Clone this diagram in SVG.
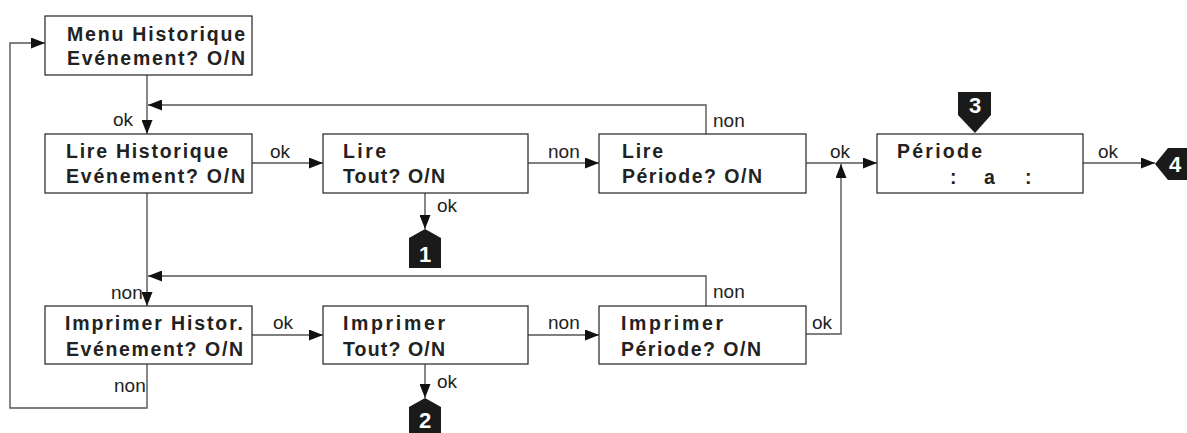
<svg xmlns="http://www.w3.org/2000/svg" width="1187" height="433" viewBox="0 0 1187 433">
<style>
.box{fill:#fff;stroke:#333;stroke-width:1.3}
.bt{font-family:"Liberation Sans",Arial,sans-serif;font-weight:bold;font-size:19.5px;fill:#222}
.lb{font-family:"Liberation Sans",Arial,sans-serif;font-size:19px;fill:#222}
.ln{fill:none;stroke:#555;stroke-width:1.4}
.bd{fill:#1a1a1a}
.bn{font-family:"Liberation Sans",Arial,sans-serif;font-weight:bold;font-size:22px;fill:#fff}
</style>
<defs>
<marker id="ar" markerUnits="userSpaceOnUse" markerWidth="14" markerHeight="11" refX="14" refY="5.5" orient="auto">
<path d="M0,0 L14,5.5 L0,11 z" fill="#111"/>
</marker>
</defs>
<rect width="1187" height="433" fill="#fff"/>
<g id="connectors">
<path class="ln" d="M147,364 V408 H10 V43 H45" marker-end="url(#ar)"/>
<path class="ln" d="M147,75 V134" marker-end="url(#ar)"/>
<path class="ln" d="M706,134 V105 H148" marker-end="url(#ar)"/>
<path class="ln" d="M147,193 V306" marker-end="url(#ar)"/>
<path class="ln" d="M706,306 V276 H148" marker-end="url(#ar)"/>
<path class="ln" d="M252,163 H323" marker-end="url(#ar)"/>
<path class="ln" d="M528,163 H599" marker-end="url(#ar)"/>
<path class="ln" d="M806,163 H877" marker-end="url(#ar)"/>
<path class="ln" d="M806,334 H841 V164" marker-end="url(#ar)"/>
<path class="ln" d="M1083,163 H1155" marker-end="url(#ar)"/>
<path class="ln" d="M425,193 V229" marker-end="url(#ar)"/>
<path class="ln" d="M425,364 V398" marker-end="url(#ar)"/>
<path class="ln" d="M252,335 H323" marker-end="url(#ar)"/>
<path class="ln" d="M528,335 H599" marker-end="url(#ar)"/>
<text class="lb" x="113" y="126">ok</text>
<text class="lb" x="270" y="158">ok</text>
<text class="lb" x="548" y="158">non</text>
<text class="lb" x="713" y="127">non</text>
<text class="lb" x="830" y="158">ok</text>
<text class="lb" x="1098" y="158">ok</text>
<text class="lb" x="437" y="212">ok</text>
<text class="lb" x="111" y="299">non</text>
<text class="lb" x="114" y="392">non</text>
<text class="lb" x="273" y="329">ok</text>
<text class="lb" x="548" y="329">non</text>
<text class="lb" x="713" y="298">non</text>
<text class="lb" x="812" y="329">ok</text>
<text class="lb" x="437" y="388">ok</text>
</g>
<g id="menu-historique">
<rect class="box" x="45" y="16" width="207" height="59"/>
<text class="bt" x="67" y="41" textLength="178" lengthAdjust="spacing">Menu Historique</text>
<text class="bt" x="67" y="65" textLength="178" lengthAdjust="spacing">Evénement? O/N</text>
</g>
<g id="lire-historique">
<rect class="box" x="45" y="134" width="207" height="59"/>
<text class="bt" x="66" y="158" textLength="162" lengthAdjust="spacing">Lire Historique</text>
<text class="bt" x="66" y="183" textLength="179" lengthAdjust="spacing">Evénement? O/N</text>
</g>
<g id="lire-tout">
<rect class="box" x="323" y="134" width="205" height="59"/>
<text class="bt" x="343" y="158" textLength="43" lengthAdjust="spacing">Lire</text>
<text class="bt" x="343" y="183" textLength="102" lengthAdjust="spacing">Tout? O/N</text>
</g>
<g id="lire-periode">
<rect class="box" x="599" y="134" width="207" height="59"/>
<text class="bt" x="622" y="158" textLength="41" lengthAdjust="spacing">Lire</text>
<text class="bt" x="622" y="183" textLength="140" lengthAdjust="spacing">Période? O/N</text>
</g>
<g id="periode">
<rect class="box" x="877" y="134" width="206" height="59"/>
<text class="bt" x="897" y="158" textLength="85" lengthAdjust="spacing">Période</text>
<text class="bt" x="950" y="184">:</text>
<text class="bt" x="984" y="184">a</text>
<text class="bt" x="1025" y="184">:</text>
</g>
<g id="imprimer-historique">
<rect class="box" x="45" y="306" width="207" height="58"/>
<text class="bt" x="65" y="330" textLength="178" lengthAdjust="spacing">Imprimer Histor.</text>
<text class="bt" x="66" y="356" textLength="177" lengthAdjust="spacing">Evénement? O/N</text>
</g>
<g id="imprimer-tout">
<rect class="box" x="323" y="306" width="205" height="58"/>
<text class="bt" x="343" y="330" textLength="102" lengthAdjust="spacing">Imprimer</text>
<text class="bt" x="343" y="356" textLength="102" lengthAdjust="spacing">Tout? O/N</text>
</g>
<g id="imprimer-periode">
<rect class="box" x="599" y="306" width="207" height="58"/>
<text class="bt" x="621" y="330" textLength="102" lengthAdjust="spacing">Imprimer</text>
<text class="bt" x="621" y="356" textLength="140" lengthAdjust="spacing">Période? O/N</text>
</g>
<g id="badge-1">
<path class="bd" d="M425,229 L441,238 V268 H409 V238 z"/>
<text class="bn" x="425" y="262" text-anchor="middle">1</text>
</g>
<g id="badge-2">
<path class="bd" d="M425,398 L441,407 V440 H409 V407 z"/>
<text class="bn" x="425" y="428" text-anchor="middle" font-size="20">2</text>
</g>
<g id="badge-3">
<path class="bd" d="M958,92 H991 V115 L975,133 L958,115 z"/>
<text class="bn" x="975" y="113" text-anchor="middle">3</text>
</g>
<g id="badge-4">
<path class="bd" d="M1155,164 L1168,148 H1190 V180 H1168 z"/>
<text class="bn" x="1175" y="172" text-anchor="middle">4</text>
</g>
</svg>
